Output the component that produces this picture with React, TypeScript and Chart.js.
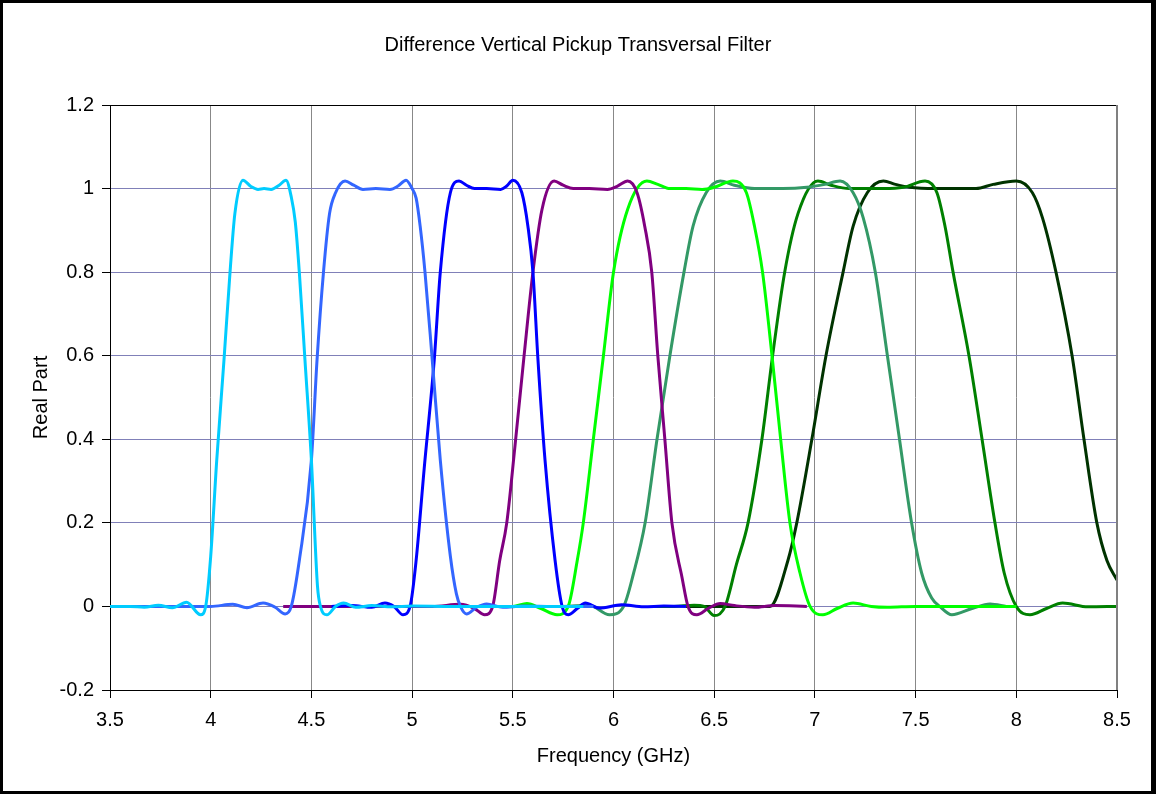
import React, { useEffect, useRef } from 'react';
import { Chart, registerables } from 'chart.js';

Chart.register(...registerables);

// Frequency (GHz) and real-part values for each filter channel
const cyanF = [3.5, 3.6, 3.67, 3.74, 3.81, 3.88, 3.95, 3.975, 4.0, 4.03, 4.066, 4.096, 4.12, 4.16, 4.2, 4.235, 4.265, 4.3, 4.34, 4.374, 4.4, 4.42, 4.44, 4.468, 4.5, 4.53, 4.545, 4.577, 4.62, 4.66, 4.72, 4.8, 4.9, 5.0, 5.2, 5.4, 5.6, 5.85];
const cyanV = [0, 0, -0.002, 0.003, -0.003, 0.01, -0.02, 0.0, 0.12, 0.35, 0.59, 0.8, 0.94, 1.02, 1.005, 0.998, 1.0, 0.998, 1.008, 1.02, 0.98, 0.92, 0.8, 0.59, 0.35, 0.05, 0.0, -0.02, 0.0, 0.008, -0.002, 0.002, -0.001, 0.001, 0, 0, 0, 0];

const royalF = [3.5, 3.6, 3.7, 3.8, 3.9, 4.0, 4.11, 4.18, 4.26, 4.32, 4.37, 4.4, 4.44, 4.5, 4.528, 4.56, 4.59, 4.62, 4.667, 4.71, 4.756, 4.82, 4.89, 4.93, 4.97, 5.0, 5.02, 5.04, 5.064, 5.1, 5.14, 5.19, 5.22, 5.24, 5.27, 5.32, 5.37, 5.45, 5.55, 5.7, 5.9];
const royalV = [0, 0, 0, 0, 0, 0, 0.005, -0.003, 0.008, -0.002, -0.018, 0.0, 0.11, 0.35, 0.59, 0.8, 0.94, 0.99, 1.018, 1.008, 0.998, 1.0, 0.998, 1.006, 1.02, 1.0, 0.977, 0.91, 0.8, 0.59, 0.35, 0.12, 0.03, 0.0, -0.018, -0.002, 0.006, -0.002, 0.001, 0, 0];

const blueF = [4.6, 4.7, 4.8, 4.865, 4.91, 4.955, 4.99, 5.02, 5.06, 5.11, 5.14, 5.19, 5.233, 5.27, 5.31, 5.37, 5.44, 5.47, 5.5, 5.545, 5.575, 5.6, 5.625, 5.66, 5.71, 5.745, 5.775, 5.82, 5.86, 5.93, 6.04, 6.15, 6.25, 6.36];
const blueV = [0, 0.002, -0.002, 0.008, 0.0, -0.02, 0.0, 0.11, 0.33, 0.59, 0.8, 0.99, 1.018, 1.008, 1.0, 1.0, 0.998, 1.006, 1.02, 0.99, 0.91, 0.8, 0.59, 0.35, 0.11, 0.0, -0.02, -0.005, 0.008, -0.004, 0.004, -0.001, 0.001, 0];

const purpleF = [4.36, 4.5, 4.7, 4.9, 5.1, 5.24, 5.31, 5.36, 5.4, 5.435, 5.47, 5.51, 5.556, 5.6, 5.645, 5.705, 5.75, 5.8, 5.88, 5.97, 6.02, 6.07, 6.117, 6.155, 6.19, 6.22, 6.255, 6.29, 6.34, 6.37, 6.414, 6.47, 6.53, 6.6, 6.7, 6.8, 6.96];
const purpleV = [0, 0, 0, 0, 0, 0.005, -0.005, -0.02, 0.0, 0.11, 0.2, 0.38, 0.6, 0.8, 0.95, 1.018, 1.008, 1.0, 1.0, 0.998, 1.006, 1.018, 0.99, 0.91, 0.8, 0.6, 0.4, 0.2, 0.07, 0.0, -0.02, -0.005, 0.007, 0.002, -0.002, 0.002, 0];

const limeF = [5.4, 5.5, 5.57, 5.64, 5.72, 5.775, 5.82, 5.85, 5.9, 5.95, 6.0, 6.07, 6.166, 6.22, 6.28, 6.36, 6.44, 6.5, 6.593, 6.66, 6.7, 6.74, 6.787, 6.83, 6.876, 6.926, 6.976, 7.04, 7.11, 7.19, 7.28, 7.36, 7.5, 7.7, 8.0];
const limeV = [0, 0.0, 0.007, -0.005, -0.02, 0.0, 0.11, 0.2, 0.4, 0.6, 0.8, 0.95, 1.018, 1.01, 1.0, 1.0, 0.998, 1.003, 1.018, 0.99, 0.91, 0.8, 0.6, 0.4, 0.2, 0.08, 0.0, -0.02, -0.005, 0.008, 0.0, -0.002, 0, 0, 0];

const seaF = [5.6, 5.75, 5.88, 5.98, 6.05, 6.1, 6.157, 6.216, 6.28, 6.35, 6.395, 6.46, 6.53, 6.6, 6.7, 6.84, 6.96, 7.05, 7.125, 7.19, 7.24, 7.3, 7.36, 7.42, 7.48, 7.53, 7.58, 7.62, 7.68, 7.78, 7.87, 7.95];
const seaV = [0, 0, 0.003, -0.02, 0.0, 0.08, 0.2, 0.4, 0.6, 0.8, 0.91, 0.99, 1.018, 1.008, 1.0, 1.0, 1.003, 1.01, 1.018, 0.99, 0.93, 0.8, 0.6, 0.4, 0.2, 0.08, 0.02, 0.0, -0.02, -0.005, 0.006, 0];

const greenF = [6.2, 6.3, 6.4, 6.45, 6.5, 6.554, 6.61, 6.668, 6.737, 6.79, 6.85, 6.916, 7.015, 7.08, 7.17, 7.34, 7.44, 7.547, 7.606, 7.646, 7.686, 7.765, 7.83, 7.894, 7.94, 8.0, 8.068, 8.15, 8.23, 8.356, 8.5];
const greenV = [0, 0, 0.003, 0.0, -0.022, 0.0, 0.1, 0.2, 0.4, 0.6, 0.8, 0.94, 1.018, 1.008, 1.0, 1.0, 1.003, 1.018, 0.99, 0.91, 0.8, 0.6, 0.4, 0.2, 0.08, 0.0, -0.02, -0.005, 0.008, -0.001, 0];

const darkF = [6.36, 6.5, 6.6, 6.7, 6.777, 6.866, 6.91, 6.985, 7.055, 7.14, 7.19, 7.26, 7.34, 7.4, 7.47, 7.6, 7.8, 7.885, 8.0, 8.08, 8.13, 8.197, 8.277, 8.336, 8.4, 8.45, 8.5];
const darkV = [0, 0, 0, 0, 0.0, 0.11, 0.2, 0.4, 0.6, 0.8, 0.91, 0.99, 1.018, 1.01, 1.003, 1.0, 1.0, 1.01, 1.018, 0.99, 0.93, 0.8, 0.6, 0.4, 0.2, 0.11, 0.063];

const seriesList = [
  { f: cyanF, v: cyanV, color: '#00CCFF' },
  { f: royalF, v: royalV, color: '#3366FF' },
  { f: blueF, v: blueV, color: '#0000FF' },
  { f: purpleF, v: purpleV, color: '#800080' },
  { f: limeF, v: limeV, color: '#00FF00' },
  { f: seaF, v: seaV, color: '#339966' },
  { f: greenF, v: greenV, color: '#008000' },
  { f: darkF, v: darkV, color: '#003300' },
];

const chartTitle = 'Difference Vertical Pickup Transversal Filter';
const xTitle = 'Frequency (GHz)';
const yTitle = 'Real Part';
const xMin = 3.5, xMax = 8.5, xStep = 0.5;
const yMin = -0.2, yMax = 1.2, yStep = 0.2;

const FONT = '"Liberation Sans", Arial, sans-serif';
const fmt = (v: number | string) => String(parseFloat(Number(v).toFixed(2)));

const framePlugin = {
  id: 'frame',
  beforeDraw(chart: any) {
    const { ctx, width, height } = chart;
    ctx.save();
    ctx.fillStyle = '#ffffff';
    ctx.fillRect(0, 0, width, height);
    ctx.restore();
  },
  afterDraw(chart: any) {
    const { ctx, width, height, chartArea: ca } = chart;
    ctx.save();
    ctx.fillStyle = '#000000';
    ctx.fillRect(0, 0, width, 3);
    ctx.fillRect(0, 0, 3, height);
    ctx.fillRect(0, height - 3, width, 3);
    ctx.fillRect(width - 5, 0, 5, height);
    ctx.strokeStyle = '#000000';
    ctx.lineWidth = 1;
    ctx.beginPath();
    ctx.moveTo(ca.left, ca.top + 0.5);
    ctx.lineTo(ca.right, ca.top + 0.5);
    ctx.stroke();
    ctx.fillStyle = '#808080';
    ctx.fillRect(ca.right - 1, ca.top, 2, ca.bottom - ca.top);
    // chart title
    ctx.fillStyle = '#000000';
    ctx.font = `20px ${FONT}`;
    ctx.textAlign = 'center';
    ctx.textBaseline = 'middle';
    ctx.fillText(chartTitle, width / 2, 45);
    ctx.restore();
  },
};

export default function App() {
  const ref = useRef<HTMLCanvasElement | null>(null);
  useEffect(() => {
    document.body.style.margin = '0';
    Chart.defaults.font.family = FONT;
    Chart.defaults.font.size = 20;
    Chart.defaults.color = '#000000';
    const chart = new Chart(ref.current as HTMLCanvasElement, {
      type: 'line',
      data: {
        datasets: seriesList.map((s) => ({
          data: s.f.map((x, i) => ({ x, y: s.v[i] })),
          borderColor: s.color,
          backgroundColor: s.color,
          borderWidth: 3,
          pointRadius: 0,
          fill: false,
          cubicInterpolationMode: 'monotone' as const,
        })),
      },
      options: {
        responsive: false,
        animation: false,
        devicePixelRatio: 1,
        layout: { padding: { left: 0, right: 39, top: 105, bottom: 0 } },
        plugins: {
          legend: { display: false },
          tooltip: { enabled: false },
          title: { display: false },
        },
        scales: {
          x: {
            type: 'linear',
            min: xMin,
            max: xMax,
            afterFit: (s: any) => { s.height = 104; },
            ticks: { stepSize: xStep, callback: (v: any) => fmt(v), padding: 10, color: '#000', font: { size: 20 }, maxRotation: 0 },
            grid: { color: '#888888', tickColor: '#000000', tickLength: 8, drawTicks: true, lineWidth: 1 },
            border: { display: true, color: '#000000', width: 1 },
            title: { display: true, text: xTitle, font: { size: 20 }, color: '#000', padding: { top: 0, bottom: 26 } },
          },
          y: {
            type: 'linear',
            min: yMin,
            max: yMax,
            afterFit: (s: any) => { s.width = 110; },
            ticks: { stepSize: yStep, callback: (v: any) => fmt(v), padding: 8, color: '#000', font: { size: 20 } },
            grid: { color: '#8080B8', tickColor: '#000000', tickLength: 8, drawTicks: true, lineWidth: 1 },
            border: { display: true, color: '#000000', width: 1 },
            title: { display: true, text: yTitle, font: { size: 20 }, color: '#000', padding: { top: 29, bottom: 0 } },
          },
        },
      },
      plugins: [framePlugin],
    });
    return () => chart.destroy();
  }, []);
  return (
    <div style={{ width: 1156, height: 794 }}>
      <canvas ref={ref} width={1156} height={794} style={{ display: 'block' }} />
    </div>
  );
}
